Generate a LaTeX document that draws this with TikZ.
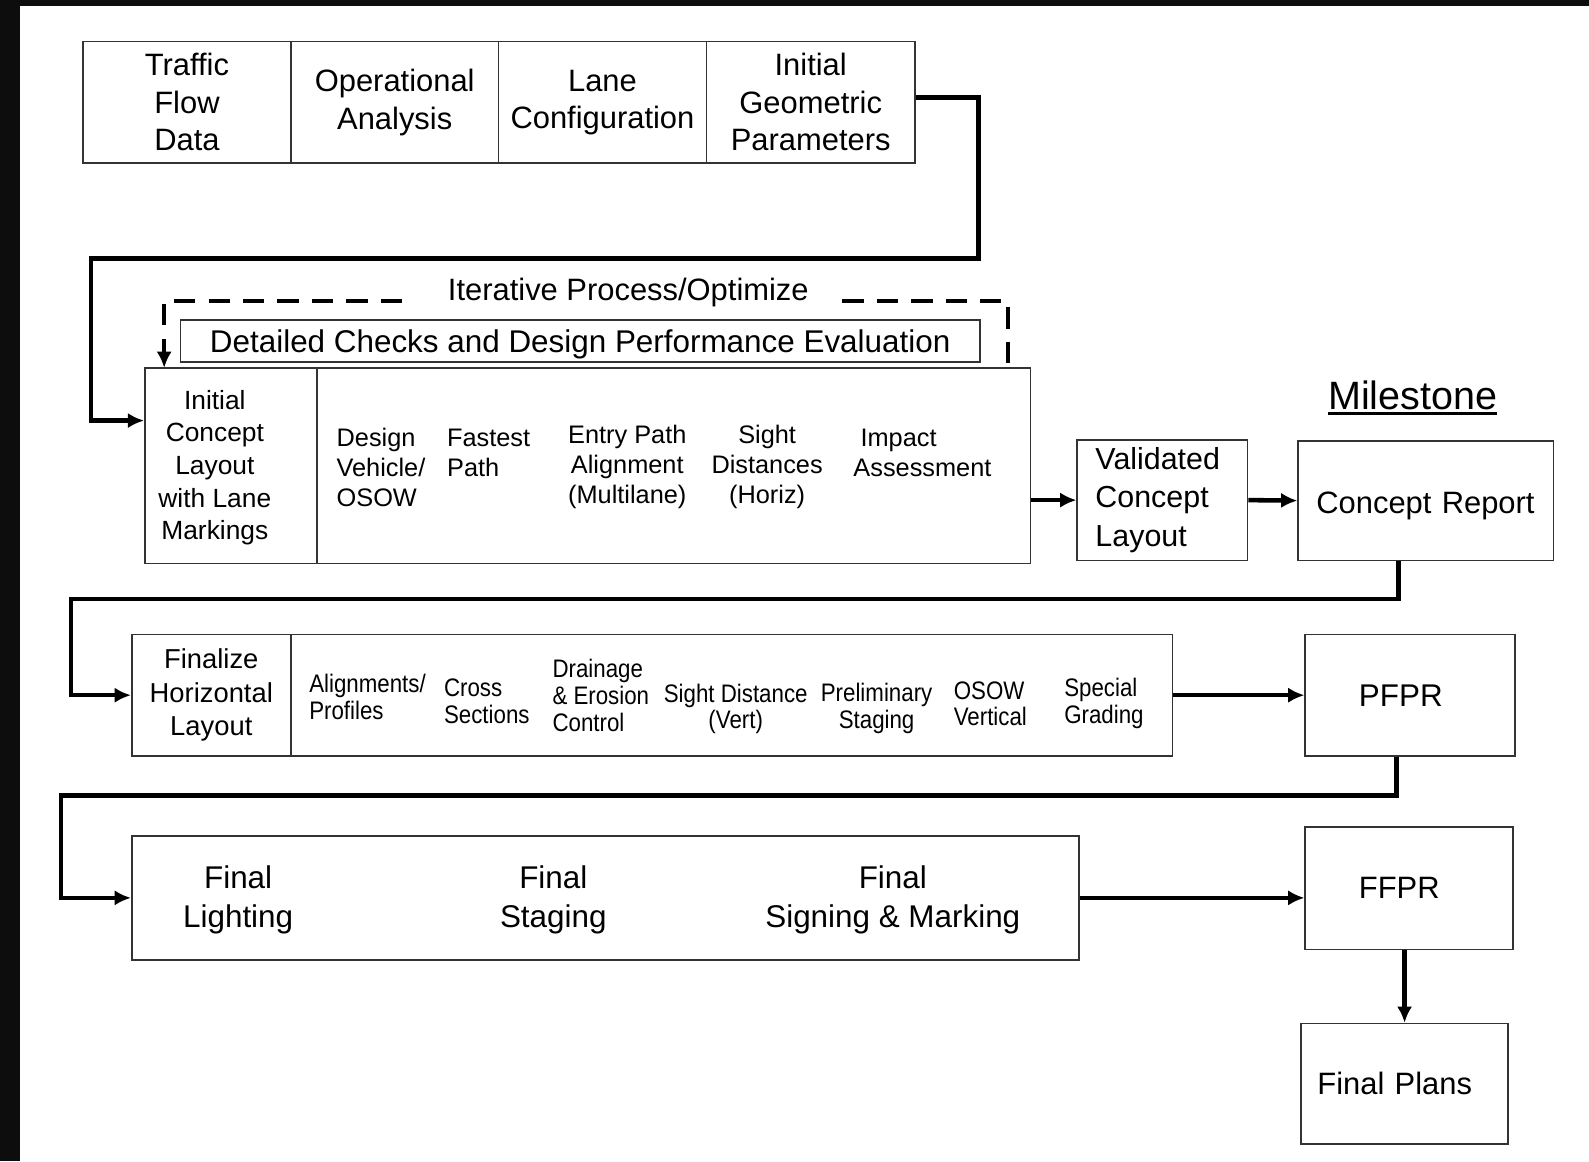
\documentclass[tikz,border=0pt]{standalone}
\usepackage{fontspec}
\setmainfont{Liberation Sans}
\newfontfamily\narrowsf[FakeStretch=0.88]{Liberation Sans}
\usetikzlibrary{arrows.meta}

\newcommand{\fsz}[2]{\fontsize{#1}{#2}\selectfont}

\begin{document}
\begin{tikzpicture}[x=1pt, y=-1pt, >={Latex[length=16pt,width=15pt]},
  box/.style={draw=black!80, line width=1.6pt, inner sep=0pt, align=center},
  txt/.style={inner sep=0pt},
  conn/.style={line width=4.5pt, ->},
  iter/.style={line width=4pt, dash pattern=on 21pt off 13pt}]

  \useasboundingbox (0,0) rectangle (1568,1146);
  \fill[white] (0,0) rectangle (1568,1146);
  \fill[black!95] (0,0) rectangle (20,1146);
  \fill[black!95] (0,0) rectangle (1568,5.5);

  % top row
  \node[box, minimum width=205pt, minimum height=120pt, font=\fsz{30.5}{37}] (traffic) at (184.5,101) {Traffic\\Flow\\Data};
  \node[box, minimum width=205pt, minimum height=120pt, font=\fsz{30.5}{37}] (opan) at (389.5,101) {Operational\\Analysis};
  \node[box, minimum width=205pt, minimum height=120pt, font=\fsz{30.5}{37}] (lanecfg) at (594.5,101) {Lane\\Configuration};
  \node[box, minimum width=206pt, minimum height=120pt, font=\fsz{30.5}{37}] (geompar) at (800,101) {Initial\\Geometric\\Parameters};

  % concept stage
  \node[txt, font=\fsz{30.5}{37}] (iterlbl) at (620,289) {Iterative Process/Optimize};
  \node[box, minimum width=789pt, minimum height=41pt, text height=30pt, text depth=6.5pt, font=\fsz{31}{37}] (detchk) at (572.5,336.5) {Detailed Checks and Design Performance Evaluation};
  \node[box, minimum width=170pt, minimum height=193pt] (initcon) at (228,459.5) {};
  \node[box, minimum width=704pt, minimum height=193pt] (checks) at (665,459.5) {};
  \node[txt, align=center, font=\fsz{26}{32.3}] (initcontxt) at (212,461.5) {Initial\\Concept\\Layout\\with Lane\\Markings};

  \node[txt, anchor=west, align=left, font=\fsz{25}{29.5}] (dvehicle) at (332,461) {Design\\Vehicle/\\OSOW};
  \node[txt, anchor=west, align=left, font=\fsz{25}{29.5}] (fastest) at (441,447) {Fastest\\ Path};
  \node[txt, align=center, font=\fsz{25}{29.5}] (entry) at (619,461) {Entry Path\\Alignment\\(Multilane)};
  \node[txt, align=center, font=\fsz{25}{29.5}] (sighth) at (757,461) {Sight\\Distances\\(Horiz)};
  \node[txt, anchor=west, align=left, font=\fsz{25}{29.5}] (impact) at (842,447) {\ Impact\\Assessment};

  \node[box, minimum width=168pt, minimum height=119pt, text width=132pt, align=left, font=\fsz{30}{38}] (valid) at (1147,493.5) {Validated\\Concept\\Layout};
  \node[box, minimum width=252pt, minimum height=118pt, text width=216pt, align=left, text height=32pt, text depth=6.5pt, font=\fsz{30.5}{37}] (crep) at (1407,494) {Concept Report};
  \node[txt, font=\fsz{39}{44}] (mile) at (1394,390) {Milestone};
  \draw[line width=2.5pt] ([yshift=-4pt]mile.base west) -- ([yshift=-4pt]mile.base east);

  % horizontal layout stage
  \node[box, minimum width=157pt, minimum height=120pt, font=\fsz{27}{33}] (horiz) at (208.5,686) {Finalize\\Horizontal\\Layout};
  \node[box, minimum width=870pt, minimum height=120pt] (hcells) at (722,686) {};
  \node[txt, anchor=west, align=left, font=\narrowsf\fsz{25}{26.5}] (align) at (305,688) {Alignments/\\Profiles};
  \node[txt, anchor=west, align=left, font=\narrowsf\fsz{25}{26.5}] (xsect) at (438,692) {Cross\\Sections};
  \node[txt, anchor=west, align=left, font=\narrowsf\fsz{25}{26.5}] (drain) at (545,686) {Drainage\\\& Erosion\\Control};
  \node[txt, align=center, font=\narrowsf\fsz{25}{26.5}] (sightv) at (726,699.5) {Sight Distance\\(Vert)};
  \node[txt, align=center, font=\narrowsf\fsz{25}{26.5}] (prelim) at (865,699) {Preliminary\\Staging};
  \node[txt, anchor=west, align=left, font=\narrowsf\fsz{25}{26.5}] (osow) at (941,694.5) {OSOW\\Vertical};
  \node[txt, anchor=west, align=left, font=\narrowsf\fsz{25}{26.5}] (grading) at (1050,694) {Special\\Grading};
  \node[box, minimum width=207pt, minimum height=120pt, text width=101pt, align=left, font=\fsz{31}{37}] (pfpr) at (1391.5,686) {PFPR};

  % final stage
  \node[box, minimum width=935pt, minimum height=122pt] (finals) at (597.5,886) {};
  \node[txt, align=center, font=\fsz{31}{38}] (flight) at (235,888) {Final\\Lighting};
  \node[txt, align=center, font=\fsz{31}{38}] (fstage) at (546,888) {Final\\Staging};
  \node[txt, align=center, font=\fsz{31}{38}] (fsign) at (881,888) {Final\\Signing \& Marking};
  \node[box, minimum width=205pt, minimum height=121pt, text width=99pt, align=left, font=\fsz{30.5}{37}] (ffpr) at (1390.5,876.5) {FFPR};
  \node[box, minimum width=204pt, minimum height=119pt, text width=172pt, align=left, font=\fsz{30.5}{37}] (plans) at (1386,1069.5) {Final Plans};

  \coordinate (bendA) at (90,255);
  \coordinate (bendB) at (70,591);
  \coordinate (bendC) at (60,785);
  \coordinate (dashL) at (162,363);
  \coordinate (dashR) at (995,363);

  \draw[iter, ->] ([xshift=-45pt,yshift=-8pt]iterlbl.west) -| (dashL);
  \draw[iter] ([xshift=33pt,yshift=-8pt]iterlbl.east) -| (dashR);

  \draw[conn] ([yshift=5pt]geompar.east) -- ++(62,0) |- (bendA) |- ([yshift=44.5pt]initcon.west);
  \draw[conn] (checks.east |- valid.west) -- (valid.west);
  \draw[conn] (valid.east) -- (crep.west);
  \draw[conn] ([xshift=-27pt]crep.south) |- (bendB) |- (horiz.west);
  \draw[conn] (hcells.east) -- (pfpr.west);
  \draw[conn] ([xshift=-13.5pt]pfpr.south) |- (bendC) |- (finals.west);
  \draw[conn] (finals.east) -- (finals.east -| ffpr.west);
  \draw[conn] (ffpr.south -| plans.north) -- (plans.north);

\end{tikzpicture}
\end{document}
